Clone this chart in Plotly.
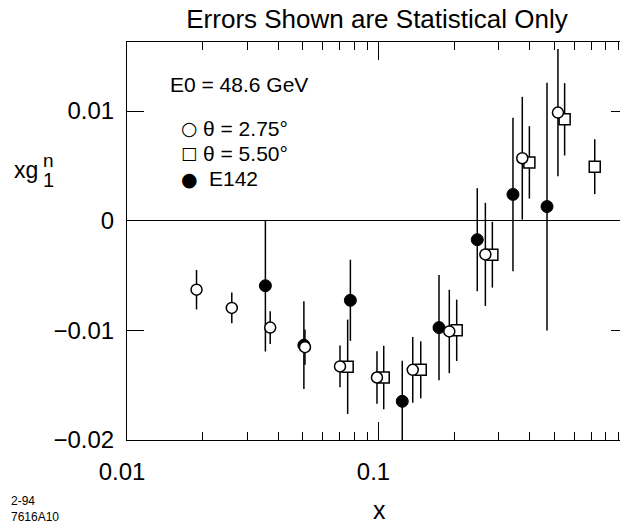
import plotly.graph_objects as go

# --- data ---
x_275 = [0.0189, 0.0261, 0.0371, 0.0510, 0.0703, 0.0986, 0.1368, 0.1912, 0.266, 0.373, 0.517]
y_275 = [-0.00629, -0.00795, -0.00975, -0.01153, -0.01329, -0.01430, -0.01360, -0.01010, -0.00307, 0.00570, 0.00986]
e_275 = [0.0018, 0.0014, 0.0015, 0.0016, 0.0019, 0.0024, 0.0030, 0.0038, 0.0047, 0.0056, 0.0058]

x_550 = [0.0754, 0.1049, 0.1472, 0.2046, 0.2836, 0.398, 0.5496, 0.724]
y_550 = [-0.01332, -0.01430, -0.01360, -0.01000, -0.00310, 0.00532, 0.00925, 0.00493]
e_550 = [0.0043, 0.0029, 0.0026, 0.0028, 0.0030, 0.0033, 0.0033, 0.0025]

x_e142 = [0.0355, 0.0505, 0.0773, 0.1243, 0.1740, 0.247, 0.3425, 0.4677]
y_e142 = [-0.00593, -0.01135, -0.00726, -0.01647, -0.00975, -0.00173, 0.00240, 0.00129]
e_e142 = [0.0060, 0.0040, 0.0037, 0.0037, 0.0048, 0.0047, 0.0070, 0.0113]

x_major = [0.01, 0.1, 1]
x_major_text = ["0.01", "0.1", "1"]
x_minor = [0.02, 0.03, 0.04, 0.05, 0.06, 0.07, 0.08, 0.09,
           0.2, 0.3, 0.4, 0.5, 0.6, 0.7, 0.8, 0.9]
y_ticks = [-0.02, -0.01, 0, 0.01]

legend_symbols = ["○", "□", "●"]
legend_labels = ["θ = 2.75°", "θ = 5.50°", "E142"]

FONT = "Liberation Sans, Arial, Helvetica, sans-serif"

# page offset from the default 8px body margin of the html page
OFF = 8
PL, PR, PT, PB = 127, 628, 42, 440   # plot area in page pixels


def px(xp):
    return (xp - PL) / (PR - PL)


def py(yp):
    return (PB - yp) / (PB - PT)


fig = go.Figure()

err = dict(type="data", thickness=1.5, width=0, color="black")

fig.add_trace(go.Scatter(
    x=x_550, y=y_550, mode="markers", name=legend_labels[1],
    error_y=dict(array=e_550, **err),
    marker=dict(symbol="square", size=11, color="white",
                line=dict(color="black", width=1.5)),
))
fig.add_trace(go.Scatter(
    x=x_e142, y=y_e142, mode="markers", name=legend_labels[2],
    error_y=dict(array=e_e142, **err),
    marker=dict(symbol="circle", size=12, color="black",
                line=dict(color="black", width=1)),
))
fig.add_trace(go.Scatter(
    x=x_275, y=y_275, mode="markers", name=legend_labels[0],
    error_y=dict(array=e_275, **err),
    marker=dict(symbol="circle", size=11, color="white",
                line=dict(color="black", width=1.5)),
))

fig.update_layout(
    width=628 - OFF, height=523 - OFF,
    margin=dict(l=PL - OFF, r=0, t=PT - OFF, b=523 - PB),
    paper_bgcolor="white", plot_bgcolor="white",
    font=dict(family=FONT, color="black"),
    title=dict(text="Errors Shown are Statistical Only", x=(377 - OFF) / (628 - OFF),
               xanchor="center", y=1 - (19 - OFF) / (523 - OFF), yanchor="middle",
               yref="container",
               font=dict(size=26, family=FONT, color="black")),
    showlegend=False,
)

fig.update_xaxes(
    type="log", range=[-2, -0.008],
    tickmode="array", tickvals=x_major, ticktext=x_major_text,
    ticks="inside", ticklen=18, tickwidth=1, tickcolor="black",
    minor=dict(tickmode="array", tickvals=x_minor, ticks="inside",
               ticklen=8, tickwidth=1, tickcolor="black", showgrid=False),
    showline=True, linecolor="black", linewidth=1, mirror="ticks",
    showgrid=False, zeroline=False,
    tickfont=dict(size=24, family=FONT), ticklabelstandoff=10,
    ticklabelshift=-5,
)
fig.update_yaxes(
    range=[-0.02, 0.0163],
    tickmode="array", tickvals=y_ticks,
    ticks="inside", ticklen=17, tickwidth=1, tickcolor="black",
    showline=True, linecolor="black", linewidth=1, mirror="ticks",
    showgrid=False, zeroline=True, zerolinecolor="black", zerolinewidth=1,
    tickfont=dict(size=24, family=FONT), ticklabelstandoff=7,
)

annos = [
    dict(text="E0 = 48.6 GeV", x=168, y=84, xanchor="left", size=21),
    dict(text="xg", x=26, y=170, xanchor="center", size=23),
    dict(text="n", x=48, y=160, xanchor="center", size=19),
    dict(text="1", x=48, y=180, xanchor="center", size=20),
    dict(text="x", x=379, y=510, xanchor="center", size=25),
]
# legend rows
row_y = [128, 153, 178.5]
text_x = [201, 201, 207]
sym_size = [19, 17, 19]
for sym, lab, yy, tx, ss in zip(legend_symbols, legend_labels, row_y, text_x, sym_size):
    annos.append(dict(text=sym, x=189, y=yy, xanchor="center", size=ss,
                      family="DejaVu Sans"))
    annos.append(dict(text=lab, x=tx, y=yy, xanchor="left", size=21))

for a in annos:
    fig.add_annotation(
        text=a["text"], xref="paper", yref="paper",
        x=px(a["x"]), y=py(a["y"]),
        xanchor=a["xanchor"], yanchor="middle", showarrow=False,
        font=dict(size=a["size"], family=a.get("family", FONT), color="black"),
    )
fig.add_annotation(
    text="2-94<br>7616A10", xref="paper", yref="paper",
    x=px(9), y=py(509), xanchor="left", yanchor="middle",
    align="left", showarrow=False,
    font=dict(size=12, family=FONT, color="black"),
)

fig.write_html("out.html")
